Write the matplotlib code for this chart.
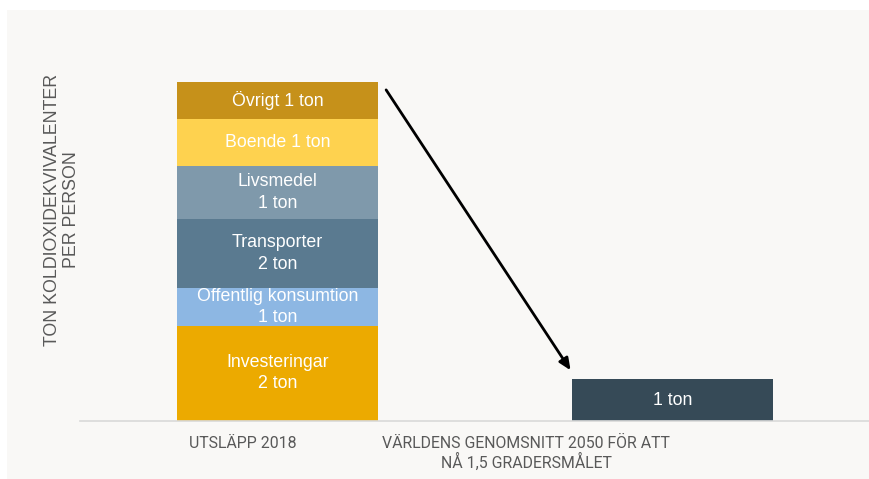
import matplotlib.pyplot as plt
from matplotlib.patches import Rectangle

# data
segments = ['Investeringar', 'Offentlig konsumtion', 'Transporter', 'Livsmedel', 'Boende', 'Övrigt']
seg_values = [2.3, 0.91, 1.67, 1.29, 1.13, 0.89]
seg_labels = ['Investeringar\n2 ton', 'Offentlig konsumtion\n1 ton', 'Transporter\n2 ton',
              'Livsmedel\n1 ton', 'Boende 1 ton', 'Övrigt 1 ton']
seg_colors = ['#ECAA00', '#8DB7E3', '#5A7A90', '#7F99AB', '#FED24F', '#C6911A']
target_value = 1.0
target_label = '1 ton'
categories = ['UTSLÄPP 2018', 'VÄRLDENS GENOMSNITT 2050 FÖR ATT\nNÅ 1,5 GRADERSMÅLET']

plt.rcParams['font.family'] = ['Liberation Sans', 'DejaVu Sans']

fig = plt.figure(figsize=(8.7, 4.79), dpi=100, facecolor='white')
fig.patches.append(Rectangle((7 / 870, 0), 1, 1 - 10 / 479, transform=fig.transFigure,
                             facecolor='#F9F8F6', edgecolor='none', zorder=-10))

ax = fig.add_axes([80 / 870, 58.3 / 479, 790 / 870, 413 / 479])
ax.set_facecolor('none')
width = 0.51

bottom = 0
for val, lab, col in zip(seg_values, seg_labels, seg_colors):
    ax.bar(0, val, width, bottom=bottom, color=col, edgecolor='none')
    ax.text(0, bottom + val / 2, lab, ha='center', va='center', color='white',
            fontsize=12.8, linespacing=1.35)
    bottom += val
total = bottom

ax.bar(1, target_value, width, color='#364A57', edgecolor='none')
ax.text(1, target_value / 2, target_label, ha='center', va='center', color='white', fontsize=12.8)

# arrow from top of stack down to the target bar
ax.annotate('', xy=(1 - width / 2 - 0.003, target_value + 0.22),
            xytext=(width / 2 + 0.02, total - 0.18),
            arrowprops=dict(arrowstyle='-|>,head_length=0.5,head_width=0.22',
                            color='black', lw=2, mutation_scale=14, shrinkA=0, shrinkB=0))

ax.set_xlim(-0.5, 1.5)
ax.set_ylim(0, 10)
ax.set_yticks([])
ax.set_xticks([-0.087, 0.629])
ax.set_xticklabels(categories, family=['Roboto', 'DejaVu Sans'],
                   fontsize=11.4, color='#595959', linespacing=1.12)
ax.tick_params(axis='x', length=0, pad=11)
for s in ['top', 'right', 'left']:
    ax.spines[s].set_visible(False)
ax.spines['bottom'].set_color('#D9D9D9')
ax.spines['bottom'].set_linewidth(1.2)

fig.text(62 / 870, 1 - 210 / 479, 'TON KOLDIOXIDEKVIVALENTER\nPER PERSON', rotation=90,
         ha='center', va='center', multialignment='center', fontsize=12.8, color='#595959',
         linespacing=1.1)

fig.savefig('out.png', dpi=100)
